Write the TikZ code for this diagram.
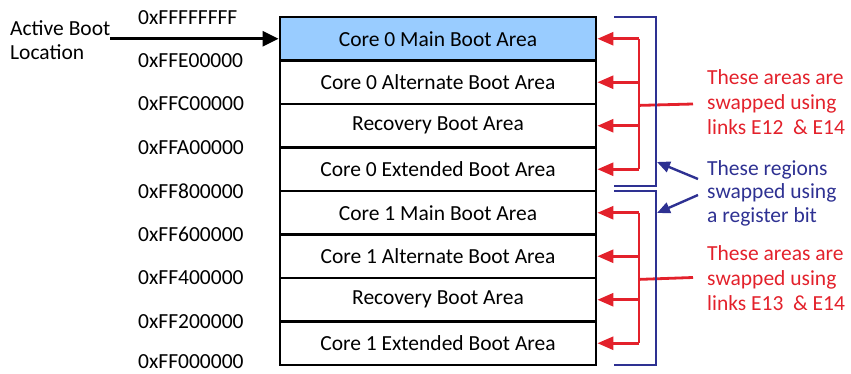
\documentclass[tikz,border=0pt]{standalone}
\usepackage{fontspec}
\setmainfont{Carlito}
\usetikzlibrary{arrows.meta}
\definecolor{swapred}{HTML}{E3212B}
\definecolor{regblue}{HTML}{2E3192}
\definecolor{bootfill}{HTML}{99CCFF}
\begin{document}
\begin{tikzpicture}[x=1pt,y=-1pt,
  font=\fontsize{21.5}{25}\selectfont,
  area/.style={draw=black, line width=2.8pt, minimum width=316pt,
    minimum height=43.5pt, inner sep=0pt, anchor=center},
  addr/.style={anchor=west, inner sep=0pt},
  redarrow/.style={draw=swapred, line width=2.8pt,
    -{Triangle[length=16pt,width=13pt]}},
  redline/.style={draw=swapred, line width=2.8pt},
  bracket/.style={draw=regblue, line width=2.4pt},
  bluearrow/.style={draw=regblue, line width=2.4pt,
    -{Triangle[length=13pt,width=11pt]}},
  note/.style={align=left, anchor=west, inner sep=0pt}]
\useasboundingbox (0,0) rectangle (851,374);

% memory areas, top to bottom
\node[area, fill=bootfill] (a0) at (438,38.75)  {Core 0 Main Boot Area};
\node[area] (a1) at (438,82.25)  {Core 0 Alternate Boot Area};
\node[area] (a2) at (438,125.75) {Recovery Boot Area};
\node[area] (a3) at (438,169.25) {Core 0 Extended Boot Area};
\node[area] (a4) at (438,212.75) {Core 1 Main Boot Area};
\node[area] (a5) at (438,256.25) {Core 1 Alternate Boot Area};
\node[area] (a6) at (438,299.75) {Recovery Boot Area};
\node[area] (a7) at (438,343.25) {Core 1 Extended Boot Area};

% address labels at the area boundaries
\node[addr] (m0) at (138,17.5)  {0xFFFFFFFF};
\node[addr] (m1) at (138,60.5)  {0xFFE00000};
\node[addr] (m2) at (138,104)   {0xFFC00000};
\node[addr] (m3) at (138,147.5) {0xFFA00000};
\node[addr] (m4) at (138,191)   {0xFF800000};
\node[addr] (m5) at (138,234.5) {0xFF600000};
\node[addr] (m6) at (138,278)   {0xFF400000};
\node[addr] (m7) at (138,321.5) {0xFF200000};
\node[addr] (m8) at (138,362)   {0xFF000000};

% active boot location pointer
\node[note, font=\fontsize{21.5}{23.5}\selectfont] (act) at (10,40) {Active Boot\\Location};
\coordinate (actend) at (110,38.75);
\draw[line width=2.8pt, -{Triangle[length=16pt,width=15pt]}] (actend) -- (a0.west);

% link-swapped groups (red)
\coordinate (rv) at (639,0);
\foreach \n in {a0,a1,a2,a3,a4,a5,a6,a7}
  \draw[redarrow] (\n.east -| rv) -- (\n.east);
\draw[redline] (a0.east -| rv) -- (a3.east -| rv);
\draw[redline] (a4.east -| rv) -- (a7.east -| rv);
\coordinate (e1) at (693,104);
\coordinate (e2) at (693,277.5);
\draw[redline] (a1.south -| rv) -- (e1);
\draw[redline] (a5.south -| rv) -- (e2);

\node[note, text=swapred] (t1) at (707,102) {These areas are\\swapped using\\links E12~ \& E14};
\node[note, text=swapred] (t2) at (707,278) {These areas are\\swapped using\\links E13~ \& E14};

% register-bit swapped halves (blue)
\coordinate (b0) at (614,17);
\coordinate (b1) at (656,17);
\coordinate (b2) at (656,186);
\coordinate (b3) at (614,186);
\coordinate (c0) at (614,191);
\coordinate (c1) at (656,191);
\coordinate (c2) at (656,365);
\coordinate (c3) at (614,365);
\draw[bracket] (b0) -- (b1) -- (b2) -- (b3);
\draw[bracket] (c0) -- (c1) -- (c2) -- (c3);

\node[note, text=regblue, font=\fontsize{21.5}{23.5}\selectfont] (t3) at (707,193) {These regions\\swapped using\\a register bit};
\coordinate (p1) at (698,179);
\coordinate (p2) at (698,195);
\coordinate (q1) at (657,162);
\coordinate (q2) at (657,213);
\draw[bluearrow] (p1) -- (q1);
\draw[bluearrow] (p2) -- (q2);
\end{tikzpicture}
\end{document}
